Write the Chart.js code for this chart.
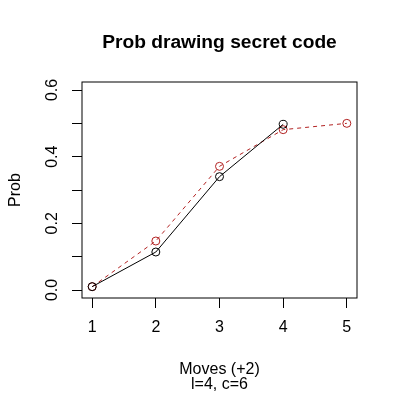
<!DOCTYPE html>
<html>
<head>
<meta charset="utf-8">
<script src="https://cdn.jsdelivr.net/npm/chart.js@4/dist/chart.umd.min.js"></script>
<style>
  html, body { margin: 0; padding: 0; background: #fff; }
  #wrap { width: 400px; height: 400px; }
</style>
</head>
<body>
<div id="wrap"><canvas id="c" width="400" height="400"></canvas></div>
<script>
const moves = [1, 2, 3, 4, 5];
const probBlack = [0.010, 0.114, 0.340, 0.497];
const probRed = [0.010, 0.147, 0.371, 0.481, 0.500];
const xTicks = [1, 2, 3, 4, 5];
const yTicks = [0, 0.1, 0.2, 0.3, 0.4, 0.5, 0.6];
const yTickLabels = ['0.0', '', '0.2', '', '0.4', '', '0.6'];
const titleText = 'Prob drawing secret code';
const xTitle = 'Moves (+2)';
const subTitle = 'l=4, c=6';
const yTitle = 'Prob';

const FONT = '"Liberation Sans", Arial, Helvetica, sans-serif';

const toXY = (ys) => ys.map((v, i) => ({ x: moves[i], y: v }));

const textPlugin = {
  id: 'rtexts',
  afterDraw(chart) {
    const ctx = chart.ctx;
    const a = chart.chartArea;
    const cx = (a.left + a.right) / 2;
    const cy = (a.top + a.bottom) / 2;
    ctx.save();
    // box
    ctx.strokeStyle = '#000';
    ctx.lineWidth = 1;
    ctx.strokeRect(a.left, a.top, a.right - a.left, a.bottom - a.top);
    ctx.fillStyle = '#000';
    ctx.textAlign = 'center';
    ctx.textBaseline = 'alphabetic';
    ctx.font = 'bold 19.2px ' + FONT;
    ctx.fillText(titleText, cx, 48);
    ctx.font = '16px ' + FONT;
    ctx.fillText(xTitle, cx, 374);
    ctx.fillText(subTitle, cx, 388.5);
    ctx.translate(19.5, cy);
    ctx.rotate(-Math.PI / 2);
    ctx.fillText(yTitle, 0, 0);
    ctx.restore();
  }
};

new Chart(document.getElementById('c'), {
  type: 'line',
  data: {
    datasets: [
      {
        label: 'black',
        data: toXY(probBlack),
        borderColor: '#000',
        borderWidth: 1,
        pointStyle: 'circle',
        pointRadius: 4,
        pointBorderWidth: 1,
        pointBorderColor: '#000',
        pointBackgroundColor: 'rgba(0,0,0,0)',
        fill: false,
        tension: 0
      },
      {
        label: 'red',
        data: toXY(probRed),
        borderColor: '#B22222',
        borderWidth: 1,
        borderDash: [4, 4],
        pointStyle: 'circle',
        pointRadius: 4,
        pointBorderWidth: 1,
        pointBorderColor: '#B22222',
        pointBackgroundColor: 'rgba(0,0,0,0)',
        fill: false,
        tension: 0
      }
    ]
  },
  options: {
    responsive: false,
    animation: false,
    devicePixelRatio: 1,
    layout: { padding: { left: 0, top: 82, right: 43, bottom: 0 } },
    plugins: {
      legend: { display: false },
      title: { display: false },
      tooltip: { enabled: false }
    },
    scales: {
      x: {
        type: 'linear',
        min: 0.84,
        max: 5.16,
        afterBuildTicks: (s) => { s.ticks = xTicks.map(v => ({ value: v })); },
        afterFit: (s) => { s.height = 102; },
        grid: { display: true, drawOnChartArea: false, drawTicks: true, tickLength: 10, tickColor: '#000', lineWidth: 1 },
        border: { display: false },
        ticks: {
          autoSkip: false,
          maxRotation: 0,
          minRotation: 0,
          padding: 10,
          color: '#000',
          font: { family: FONT, size: 16 },
          callback: (v) => String(v)
        }
      },
      y: {
        type: 'linear',
        min: -0.024,
        max: 0.624,
        afterBuildTicks: (s) => { s.ticks = yTicks.map(v => ({ value: v })); },
        afterFit: (s) => { s.width = 82; },
        grid: { display: true, drawOnChartArea: false, drawTicks: true, tickLength: 10, tickColor: '#000', lineWidth: 1 },
        border: { display: false },
        ticks: {
          autoSkip: false,
          minRotation: 90,
          maxRotation: 90,
          crossAlign: 'center',
          padding: 8,
          color: '#000',
          font: { family: FONT, size: 16 },
          callback: (v, i) => yTickLabels[i]
        }
      }
    }
  },
  plugins: [textPlugin]
});
</script>
</body>
</html>
